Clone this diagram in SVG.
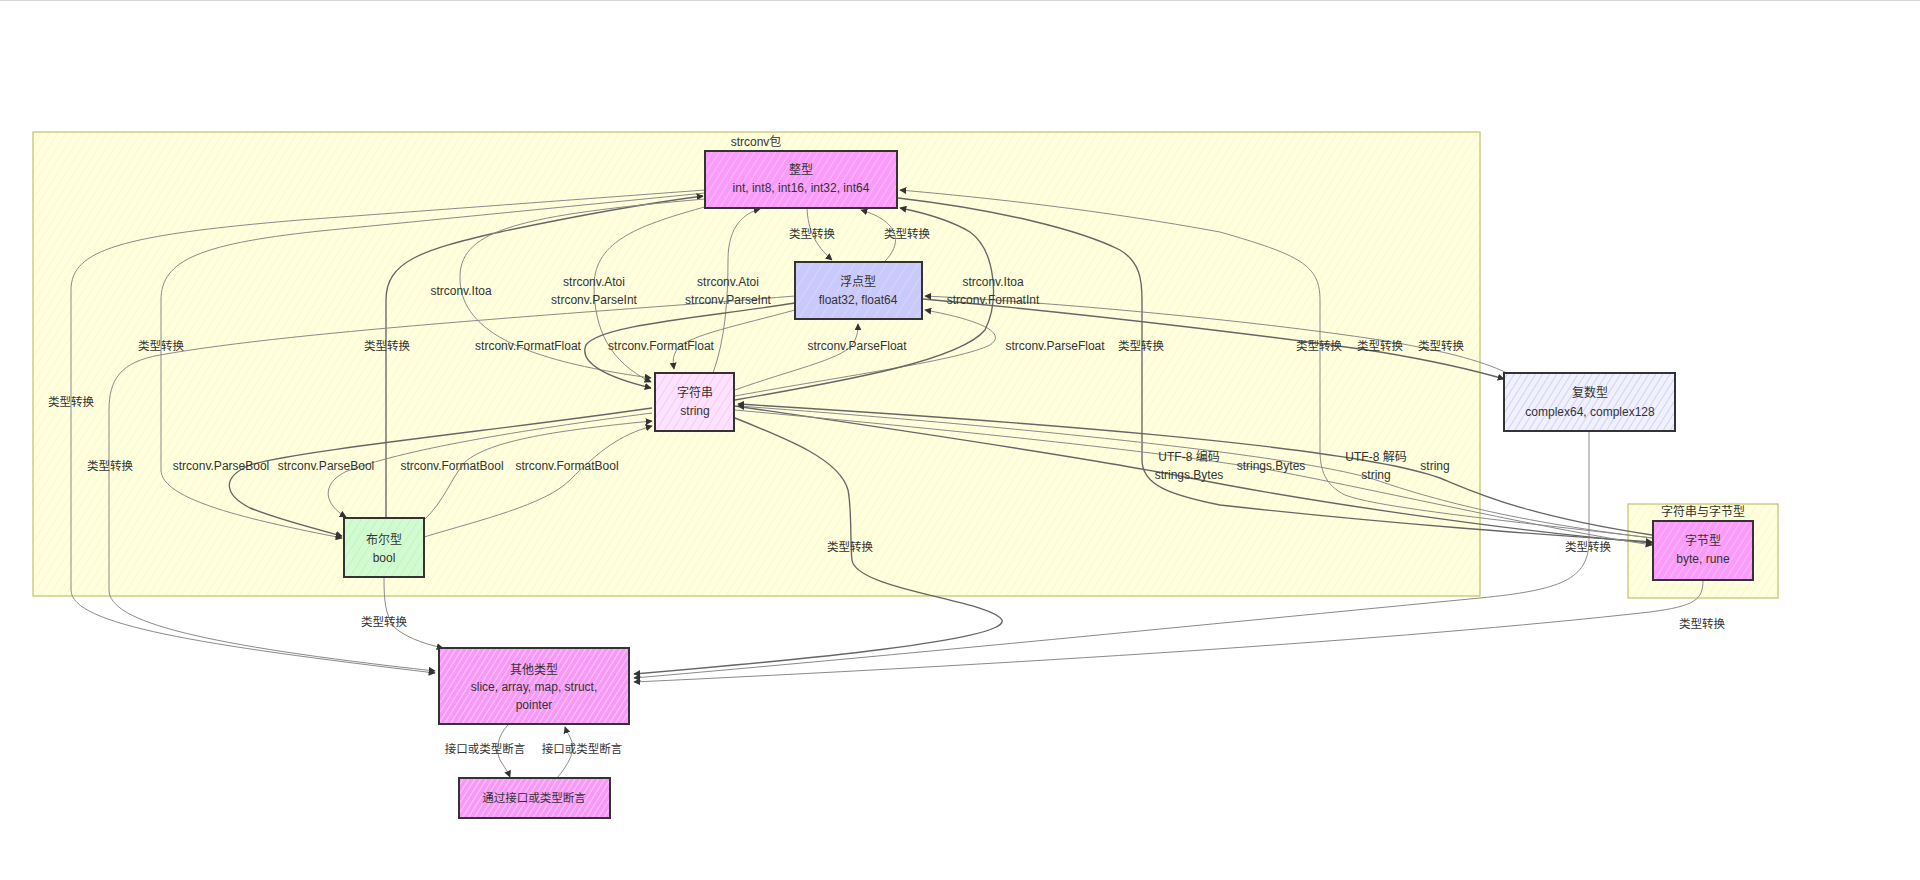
<svg xmlns="http://www.w3.org/2000/svg" width="1920" height="880" viewBox="0 0 1920 880">
<defs>
<style>
.t{font-family:"Liberation Sans","Noto Sans CJK SC",sans-serif;font-size:12px;fill:#333;text-anchor:middle;dominant-baseline:central}
.cj{font-size:11.5px}
.e{fill:none;stroke:#8a8a8a;stroke-width:1}
.k{fill:none;stroke:#666;stroke-width:1.35}
.n{stroke:#333;stroke-width:2}
.c{stroke:#c2c26a;stroke-width:1.2}
</style>
<marker id="arr" viewBox="0 0 10 10" refX="9" refY="5" markerWidth="7" markerHeight="7" markerUnits="userSpaceOnUse" orient="auto"><path d="M0,0 L10,5 L0,10 z" fill="#333"/></marker>
<pattern id="hC" width="7" height="7" patternUnits="userSpaceOnUse" patternTransform="rotate(32)"><rect width="7" height="7" fill="#ffffde"/><line x1="0" y1="0" x2="0" y2="7" stroke="#f2f2c4" stroke-width="1"/></pattern>
<pattern id="hInt" width="6" height="6" patternUnits="userSpaceOnUse" patternTransform="rotate(32)"><rect width="6" height="6" fill="#f99cf9"/><line x1="0" y1="0" x2="0" y2="6" stroke="#fcc8fc" stroke-width="1.2"/></pattern>
<pattern id="hOth" width="5" height="5" patternUnits="userSpaceOnUse" patternTransform="rotate(32)"><rect width="5" height="5" fill="#f79af7"/><line x1="0" y1="0" x2="0" y2="5" stroke="#fdd8fd" stroke-width="1.4"/></pattern>
<pattern id="hFl" width="9" height="9" patternUnits="userSpaceOnUse" patternTransform="rotate(32)"><rect width="9" height="9" fill="#c9c9fb"/><line x1="0" y1="0" x2="0" y2="9" stroke="#e2e2fd" stroke-width="1"/></pattern>
<pattern id="hStr" width="7" height="7" patternUnits="userSpaceOnUse" patternTransform="rotate(32)"><rect width="7" height="7" fill="#fde2fd"/><line x1="0" y1="0" x2="0" y2="7" stroke="#f5b8f5" stroke-width="1.2"/></pattern>
<pattern id="hBool" width="7" height="7" patternUnits="userSpaceOnUse" patternTransform="rotate(32)"><rect width="7" height="7" fill="#d2fbd2"/><line x1="0" y1="0" x2="0" y2="7" stroke="#b4f4b4" stroke-width="1.2"/></pattern>
<pattern id="hCx" width="6" height="6" patternUnits="userSpaceOnUse" patternTransform="rotate(32)"><rect width="6" height="6" fill="#f0f0ff"/><line x1="0" y1="0" x2="0" y2="6" stroke="#bdbdf2" stroke-width="1.2"/></pattern>
</defs>
<rect width="1920" height="880" fill="#ffffff"/>
<line x1="0" y1="0.5" x2="1920" y2="0.5" stroke="#d6d6d6" stroke-width="1"/>

<g id="cluster-strconv">
<rect class="c" x="33" y="132" width="1447" height="464" fill="url(#hC)"/>
<text class="t" x="756" y="142">strconv包</text>
</g>
<g id="cluster-bytes">
<rect class="c" x="1628" y="504" width="150" height="94" fill="url(#hC)"/>
<text class="t" x="1703" y="512">字符串与字节型</text>
</g>

<g id="connectors">
<path class="e" marker-end="url(#arr)" d="M705,190 L300,220 C120,235 71,250 71,290 L71,590 C71,625 200,645 435,673"/>
<path class="e" marker-end="url(#arr)" d="M705,193 L330,230 C200,243 161,260 161,300 L161,470 C161,500 250,520 342,538"/>
<path class="k" marker-end="url(#arr)" d="M386,518 L386,300 C386,262 420,250 500,232 C580,215 650,203 703,196"/>
<path class="e" marker-end="url(#arr)" d="M705,199 C520,215 462,230 460,275 C458,330 520,360 651,378"/>
<path class="e" marker-end="url(#arr)" d="M708,206 C640,225 595,240 594,285 C594,330 610,362 651,382"/>
<path class="e" marker-end="url(#arr)" d="M713,373 C725,340 728,300 728,260 C728,225 745,213 760,209"/>
<path class="e" marker-end="url(#arr)" d="M807,208 C808,230 815,245 832,260"/>
<path class="e" marker-end="url(#arr)" d="M884,262 C902,245 902,222 861,210"/>
<path class="e" marker-end="url(#arr)" d="M795,296 C600,312 300,330 160,355 C120,362 109,380 109,410 L109,590 C109,622 200,645 435,671"/>
<path class="k" marker-end="url(#arr)" d="M795,303 C700,318 600,325 586,345 C578,364 610,378 651,388"/>
<path class="e" marker-end="url(#arr)" d="M795,310 C740,325 690,335 678,348 C672,356 673,362 674,369"/>
<path class="e" marker-end="url(#arr)" d="M735,390 C790,370 840,360 852,345 C857,338 858,332 858,324"/>
<path class="e" marker-end="url(#arr)" d="M735,396 C850,375 960,360 990,345 C1008,333 980,320 925,310"/>
<path class="k" marker-end="url(#arr)" d="M735,400 C850,380 960,360 985,330 C1000,300 995,250 970,232 C950,220 920,212 900,208"/>
<path class="e" marker-end="url(#arr)" d="M1653,538 C1500,520 1380,508 1345,495 C1325,485 1320,470 1320,450 L1320,300 C1320,265 1300,255 1220,232 C1100,210 990,198 900,190"/>
<path class="k" marker-end="url(#arr)" d="M898,198 C1000,210 1080,230 1120,250 C1140,262 1142,280 1142,300 L1142,460 C1142,485 1170,495 1220,505 C1400,525 1550,535 1652,542"/>
<path class="k" marker-end="url(#arr)" d="M923,299 C1100,315 1300,340 1380,352 C1440,362 1480,372 1504,379"/>
<path class="e" marker-end="url(#arr)" d="M1507,373 C1480,360 1440,350 1380,340 C1250,320 1050,302 925,296"/>
<path class="e" marker-end="url(#arr)" d="M1589,431 L1589,540 C1589,580 1560,590 1480,598 C1200,625 900,655 634,678"/>
<path class="e" marker-end="url(#arr)" d="M1703,580 C1703,600 1695,606 1650,612 C1400,640 1000,665 634,682"/>
<path class="k" marker-end="url(#arr)" d="M735,418 C790,440 840,460 848,490 C852,510 850,545 852,560 C856,590 990,600 1002,620 C1010,640 800,660 634,674"/>
<path class="e" marker-end="url(#arr)" d="M384,578 C384,600 385,615 395,628 C410,640 430,645 443,648"/>
<path class="e" marker-end="url(#arr)" d="M508,725 C498,735 495,750 500,760 C505,768 508,772 510,777"/>
<path class="e" marker-end="url(#arr)" d="M557,778 C568,765 575,752 572,742 C569,734 566,730 565,727"/>
<path class="k" marker-end="url(#arr)" d="M652,408 C500,430 300,450 250,465 C220,478 225,495 250,508 C280,520 320,530 342,536"/>
<path class="e" marker-end="url(#arr)" d="M652,413 C520,430 400,450 345,472 C320,485 325,505 346,517"/>
<path class="e" marker-end="url(#arr)" d="M424,520 C445,500 450,480 465,462 C490,440 560,430 652,421"/>
<path class="e" marker-end="url(#arr)" d="M424,537 C480,520 545,505 570,480 C600,450 620,435 652,426"/>
<path class="k" marker-end="url(#arr)" d="M735,406 C900,430 1100,460 1190,478 C1300,500 1500,530 1652,543"/>
<path class="e" marker-end="url(#arr)" d="M735,410 C950,430 1150,450 1271,470 C1400,495 1550,530 1652,545"/>
<path class="e" marker-end="url(#arr)" d="M1652,538 C1500,520 1420,495 1376,480 C1300,455 1000,425 738,406"/>
<path class="k" marker-end="url(#arr)" d="M1652,535 C1520,515 1470,490 1440,478 C1350,445 1000,420 738,404"/>
</g>

<g id="node-int">
<rect class="n" x="705" y="151" width="192" height="57" fill="url(#hInt)"/>
<text class="t" x="801" y="170">整型</text>
<text class="t" x="801" y="188">int, int8, int16, int32, int64</text>
</g>
<g id="node-float">
<rect class="n" x="795" y="262" width="127" height="57" fill="url(#hFl)"/>
<text class="t" x="858" y="282">浮点型</text>
<text class="t" x="858" y="300">float32, float64</text>
</g>
<g id="node-string">
<rect class="n" x="655" y="373" width="79" height="58" fill="url(#hStr)"/>
<text class="t" x="695" y="393">字符串</text>
<text class="t" x="695" y="411">string</text>
</g>
<g id="node-bool">
<rect class="n" x="344" y="518" width="80" height="59" fill="url(#hBool)"/>
<text class="t" x="384" y="540">布尔型</text>
<text class="t" x="384" y="558">bool</text>
</g>
<g id="node-complex">
<rect class="n" x="1504" y="373" width="171" height="58" fill="url(#hCx)"/>
<text class="t" x="1590" y="393">复数型</text>
<text class="t" x="1590" y="412">complex64, complex128</text>
</g>
<g id="node-byte">
<rect class="n" x="1653" y="521" width="100" height="59" fill="url(#hInt)"/>
<text class="t" x="1703" y="541">字节型</text>
<text class="t" x="1703" y="559">byte, rune</text>
</g>
<g id="node-other">
<rect class="n" x="439" y="648" width="190" height="76" fill="url(#hOth)"/>
<text class="t" x="534" y="670">其他类型</text>
<text class="t" x="534" y="687">slice, array, map, struct,</text>
<text class="t" x="534" y="705">pointer</text>
</g>
<g id="node-iface">
<rect class="n" x="459" y="778" width="151" height="40" fill="url(#hOth)"/>
<text class="t cj" x="534" y="798">通过接口或类型断言</text>
</g>

<g id="edge-labels">
<text class="t cj" x="71" y="402">类型转换</text>
<text class="t cj" x="161" y="346">类型转换</text>
<text class="t cj" x="387" y="346">类型转换</text>
<text class="t cj" x="110" y="466">类型转换</text>
<text class="t" x="461" y="291">strconv.Itoa</text>
<text class="t" x="594" y="282">strconv.Atoi</text>
<text class="t" x="594" y="300">strconv.ParseInt</text>
<text class="t" x="728" y="282">strconv.Atoi</text>
<text class="t" x="728" y="300">strconv.ParseInt</text>
<text class="t cj" x="812" y="234">类型转换</text>
<text class="t cj" x="907" y="234">类型转换</text>
<text class="t" x="993" y="282">strconv.Itoa</text>
<text class="t" x="993" y="300">strconv.FormatInt</text>
<text class="t" x="528" y="346">strconv.FormatFloat</text>
<text class="t" x="661" y="346">strconv.FormatFloat</text>
<text class="t" x="857" y="346">strconv.ParseFloat</text>
<text class="t" x="1055" y="346">strconv.ParseFloat</text>
<text class="t cj" x="1141" y="346">类型转换</text>
<text class="t cj" x="1319" y="346">类型转换</text>
<text class="t cj" x="1380" y="346">类型转换</text>
<text class="t cj" x="1441" y="346">类型转换</text>
<text class="t" x="221" y="466">strconv.ParseBool</text>
<text class="t" x="326" y="466">strconv.ParseBool</text>
<text class="t" x="452" y="466">strconv.FormatBool</text>
<text class="t" x="567" y="466">strconv.FormatBool</text>
<text class="t" x="1189" y="457">UTF-8 编码</text>
<text class="t" x="1189" y="475">strings.Bytes</text>
<text class="t" x="1271" y="466">strings.Bytes</text>
<text class="t" x="1376" y="457">UTF-8 解码</text>
<text class="t" x="1376" y="475">string</text>
<text class="t" x="1435" y="466">string</text>
<text class="t cj" x="850" y="547">类型转换</text>
<text class="t cj" x="1588" y="547">类型转换</text>
<text class="t cj" x="384" y="622">类型转换</text>
<text class="t cj" x="1702" y="624">类型转换</text>
<text class="t cj" x="485" y="749">接口或类型断言</text>
<text class="t cj" x="582" y="749">接口或类型断言</text>
</g>
</svg>
